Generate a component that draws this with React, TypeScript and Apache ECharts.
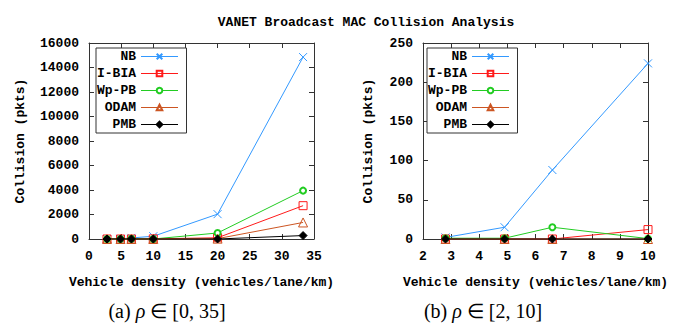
import React, { useEffect, useRef } from "react";
import * as echarts from "echarts";

const densityA = [2.8, 4.9, 6.6, 10, 20, 33.3];
const densityB = [2.8, 4.9, 6.6, 10];
const seriesNames = ["NB", "I-BIA", "Wp-PB", "ODAM", "PMB"];
const nbVals = [2, 15, 88, 224, 2030, 14850];
const ibiaVals = [0, 0, 0, 12, 100, 2720];
const wppbVals = [1, 1, 15, 0.5, 490, 3950];
const odamVals = [0, 0, 0, 0, 30, 1350];
const pmbVals = [0, 0, 0, 0, 0, 280];
const xTicksA = { min: 0, max: 35, interval: 5 };
const yTicksA = { min: 0, max: 16000, interval: 2000 };
const xTicksB = { min: 2, max: 10, interval: 1 };
const yTicksB = { min: 0, max: 250, interval: 50 };
const titleText = "VANET Broadcast MAC Collision Analysis";
const xName = "Vehicle density (vehicles/lane/km)";
const yName = "Collision (pkts)";

const MONO = "Liberation Mono";
const colors = ["#3399ff", "#ff1a1a", "#22cc22", "#cc5522", "#000000"];
const symbols = [
  "path://M0,0L10,10M10,0L0,10",
  "path://M0,0L10,0L10,10L0,10Z",
  "emptyCircle",
  "path://M5,0L10,9L0,9Z",
  "diamond",
];
const symbolSizes = [8, 8, 6, 9, 8];
const allVals = [nbVals, ibiaVals, wppbVals, odamVals, pmbVals];

function makeSeries(xs: number[], xi: number, yi: number) {
  return seriesNames.map((name, i) => {
    const filled = i === 4;
    const circ = i === 2;
    return {
      name,
      type: "line",
      xAxisIndex: xi,
      yAxisIndex: yi,
      data: xs.map((x, k) => [x, allVals[i][k]]),
      symbol: symbols[i],
      symbolSize: symbolSizes[i],
      showAllSymbol: true,
      lineStyle: { color: colors[i], width: 1 },
      itemStyle: filled
        ? { color: colors[i], borderColor: colors[i], borderWidth: 1 }
        : circ
        ? { color: colors[i], borderWidth: 1 }
        : { color: "rgba(0,0,0,0)", borderColor: colors[i], borderWidth: 1 },
      emphasis: { disabled: true },
      z: 2 + i,
    };
  });
}

function axisPair(grid: number, ticks: any, isX: boolean, nameGap: number) {
  const common = {
    type: "value",
    gridIndex: grid,
    min: ticks.min,
    max: ticks.max,
    interval: ticks.interval,
    splitLine: { show: false },
    axisLine: { show: true, onZero: false, lineStyle: { color: "#333", width: 1 } },
    axisTick: { show: true, inside: true, length: 5, lineStyle: { color: "#333" } },
  };
  const main = {
    ...common,
    position: isX ? "bottom" : "left",
    axisLabel: {
      show: true,
      fontFamily: MONO,
      fontWeight: "bold",
      fontSize: 13,
      color: "#000",
      margin: isX ? 11 : 10,
      formatter: (v: number) => String(v),
    },
    name: isX ? xName : yName,
    nameLocation: "middle",
    nameGap,
    nameRotate: isX ? 0 : 90,
    nameTextStyle: { fontFamily: MONO, fontWeight: "bold", fontSize: 13, color: "#000" },
  };
  const mirror = {
    ...common,
    position: isX ? "top" : "right",
    axisLabel: { show: false },
  };
  return [main, mirror];
}

function makeLegend(left: number) {
  return {
    data: seriesNames,
    orient: "vertical",
    left,
    top: 48,
    align: "right",
    itemWidth: 37,
    itemHeight: 7,
    itemGap: 4,
    padding: [2, 8, 2, 1],
    borderColor: "#333",
    borderWidth: 1,
    backgroundColor: "#fff",
    selectedMode: false,
    lineStyle: { width: 1 },
    textStyle: {
      fontFamily: MONO,
      fontWeight: "bold",
      fontSize: 13,
      color: "#000",
      lineHeight: 12,
    },
  };
}

export default function App() {
  const ref = useRef<HTMLDivElement>(null);
  useEffect(() => {
    document.body.style.margin = "0";
    const chart = echarts.init(ref.current!, null, { renderer: "svg" });
    const [xa, xa2] = axisPair(0, xTicksA, true, 37);
    const [ya, ya2] = axisPair(0, yTicksA, false, 62);
    const [xb, xb2] = axisPair(1, xTicksB, true, 37);
    const [yb, yb2] = axisPair(1, yTicksB, false, 48);
    chart.setOption({
      animation: false,
      backgroundColor: "#fff",
      title: {
        text: titleText,
        left: 361,
        top: 11,
        textAlign: "center",
        textStyle: { fontFamily: MONO, fontWeight: "bold", fontSize: 13, color: "#000" },
      },
      grid: [
        { left: 89, top: 43, width: 225, height: 196 },
        { left: 423, top: 43, width: 225, height: 196 },
      ],
      xAxis: [xa, xa2, xb, xb2],
      yAxis: [ya, ya2, yb, yb2],
      legend: [makeLegend(96), makeLegend(427)],
      series: [...makeSeries(densityA, 0, 0), ...makeSeries(densityB, 2, 2)],
      graphic: [
        {
          type: "text",
          x: 167,
          y: 311,
          style: {
            text: "(a) {i|ρ} ∈ [0, 35]",
            rich: { i: { fontStyle: "italic", fontFamily: "Liberation Serif", fontSize: 20 } },
            fontFamily: "Liberation Serif",
            fontSize: 20,
            fill: "#000",
            align: "center",
            verticalAlign: "middle",
          },
        },
        {
          type: "text",
          x: 483,
          y: 311,
          style: {
            text: "(b) {i|ρ} ∈ [2, 10]",
            rich: { i: { fontStyle: "italic", fontFamily: "Liberation Serif", fontSize: 20 } },
            fontFamily: "Liberation Serif",
            fontSize: 20,
            fill: "#000",
            align: "center",
            verticalAlign: "middle",
          },
        },
      ],
    });
    return () => chart.dispose();
  }, []);
  return <div ref={ref} style={{ width: 676, height: 324 }} />;
}
